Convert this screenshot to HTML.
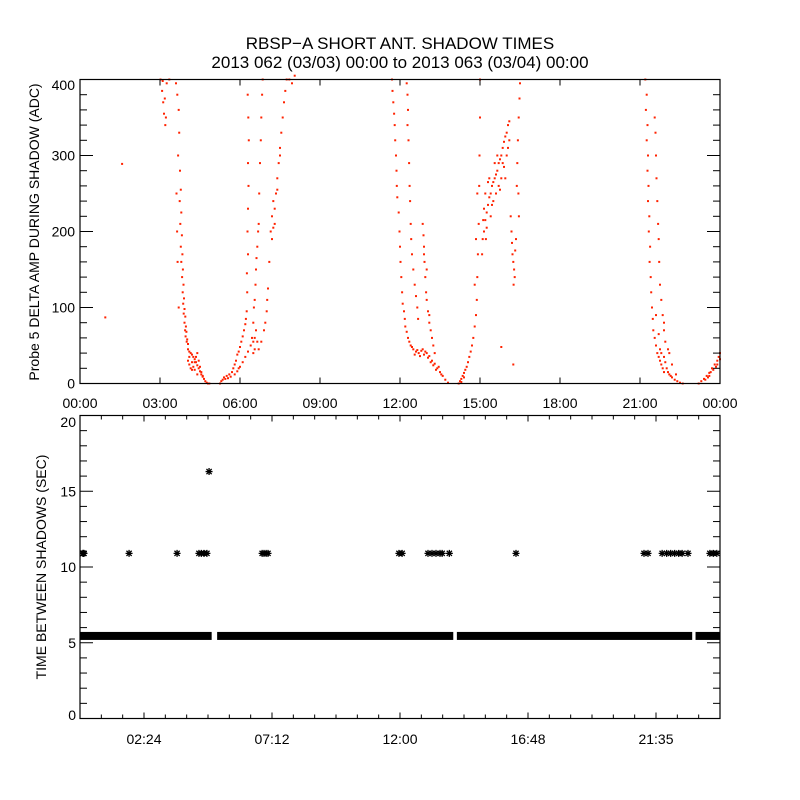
<!DOCTYPE html>
<html><head><meta charset="utf-8"><style>
html,body{margin:0;padding:0;background:#fff;}
svg{display:block;font-family:"Liberation Sans",sans-serif;}
</style></head><body>
<svg id="chart" width="800" height="800" viewBox="0 0 800 800">
<rect x="0" y="0" width="800" height="800" fill="#fff"/>
<text x="400" y="49" text-anchor="middle" font-size="17">RBSP−A SHORT ANT. SHADOW TIMES</text>
<text x="400" y="68" text-anchor="middle" font-size="17">2013 062 (03/03) 00:00 to 2013 063 (03/04) 00:00</text>
<g id="topPanel"></g>
<g id="botPanel"></g>
</svg>
<script>
// ---------- data ----------
const topTickHours = [0,3,6,9,12,15,18,21,24];
const topTickLabels = ["00:00","03:00","06:00","09:00","12:00","15:00","18:00","21:00","00:00"];
const topYTicks = [0,100,200,300,400];
const botXTickHours = [2.4,7.2,12,16.8,21.6];
const botXTickLabels = ["02:24","07:12","12:00","16:48","21:35"];
const botYTicks = [0,5,10,15,20];
// Probe 5 delta amp points: [hour, value]
const ampPoints = [
[0.95,87],[1.58,289],
[3.02,400],[3.08,385],[3.12,370],[3.15,355],[3.2,340],[3.25,395],[3.35,400],[3.1,398],[3.18,375],[3.22,350],
[3.65,380],[3.7,360],[3.72,330],[3.68,300],[3.75,280],[3.78,255],[3.74,240],[3.8,225],[3.76,210],[3.82,195],[3.78,180],[3.84,170],[3.8,160],[3.86,150],[3.83,140],[3.88,130],[3.85,120],[3.9,112],[3.87,105],[3.92,98],[3.89,92],[3.95,88],[3.92,80],[3.97,75],[3.94,70],[3.99,68],[3.96,62],[4.02,58],[4.0,55],[4.05,52],
[3.62,250],[3.64,200],[3.66,160],[3.6,395],[3.7,100],
[4.05,45],[4.1,42],[4.15,40],[4.2,38],[4.25,35],[4.3,32],[4.35,28],[4.4,24],[4.45,20],[4.5,16],[4.55,12],[4.6,9],[4.65,6],[4.7,3],[4.75,1],[4.8,0],[4.85,0],
[4.05,30],[4.1,25],[4.15,20],[4.2,18],[4.25,22],[4.3,28],[4.35,35],[4.4,40],[4.45,30],[4.5,22],[4.55,15],[4.6,10],[4.1,35],[4.2,28],[4.3,18],[4.4,12],
[5.25,0],[5.3,3],[5.35,5],[5.4,8],[5.45,6],[5.5,10],[5.55,7],[5.6,12],[5.65,9],[5.7,15],[5.75,20],[5.8,25],[5.85,30],[5.9,38],[5.95,42],[6.0,48],[6.05,55],[6.1,62],[6.15,70],[6.2,78],[6.22,85],
[5.8,12],[5.9,16],[5.95,20],[6.0,22],[6.1,28],[6.2,35],[6.3,42],[6.4,50],[6.5,55],[6.55,60],
[6.25,95],[6.27,120],[6.26,145],[6.3,170],[6.28,200],[6.3,230],[6.32,260],[6.3,290],[6.33,320],[6.31,350],[6.29,380],
[6.45,60],[6.5,80],[6.52,100],[6.55,110],[6.58,130],[6.6,150],[6.62,165],[6.65,180],[6.68,200],[6.7,210],[6.72,250],[6.75,290],[6.78,320],[6.8,350],[6.83,380],[6.85,400],[6.6,70],[6.65,55],[6.55,45],[6.5,40],
[6.7,45],[6.8,55],[6.9,70],[6.95,80],[7.0,95],[7.02,110],[7.05,125],[7.1,160],[7.15,200],[7.2,220],[7.25,240],[7.3,230],[7.35,250],[7.4,270],[7.45,290],[7.5,310],[7.55,330],[7.6,350],[7.65,370],[7.7,385],[7.75,400],[7.3,210],[7.2,190],[7.25,205],[7.4,255],[7.5,300],[7.85,400],[7.95,395],[8.05,405],
[11.7,400],[11.72,385],[11.75,370],[11.78,355],[11.8,340],[11.82,320],[11.85,300],[11.87,280],[11.88,260],[11.9,245],[11.95,225],[11.98,200],[12.0,180],[12.02,160],[12.05,140],[12.08,120],[12.1,105],[12.15,95],[12.18,85],[12.2,75],[12.25,68],[12.3,60],[12.35,55],[12.4,50],[12.45,48],[12.5,45],[12.6,42],[12.7,40],[12.8,43],[12.9,38],[13.0,40],[13.1,36],[13.2,30],[13.3,26],[13.4,20],[13.5,15],[13.6,10],[13.7,5],[13.8,1],
[12.55,38],[12.65,44],[12.75,36],[12.85,45],[12.95,42],[13.05,34],[13.15,28],[13.25,24],[13.35,18],[13.45,22],[13.55,12],
[12.25,395],[12.28,380],[12.3,360],[12.28,340],[12.32,320],[12.34,290],[12.36,260],[12.38,240],[12.4,210],[12.42,190],[12.45,170],[12.5,150],[12.55,130],[12.6,115],[12.65,100],[12.68,85],
[12.85,210],[12.88,195],[12.9,180],[12.92,160],[12.95,140],[12.98,120],[13.0,110],[13.05,95],[13.1,80],[13.15,70],[13.2,60],[13.25,50],[13.3,40],[13.1,90],[12.9,170],[13.0,150],
[14.2,0],[14.25,3],[14.3,6],[14.35,10],[14.4,14],[14.45,18],[14.5,22],[14.55,28],[14.6,35],[14.65,42],[14.7,50],[14.75,60],[14.8,75],[14.85,90],[14.88,110],[14.9,140],[14.92,170],[14.95,210],[14.97,260],[14.98,300],[15.0,350],[15.0,400],[14.8,130],[14.85,190],[14.9,250],[14.3,2],[14.4,8],
[15.08,170],[15.1,190],[15.15,200],[15.2,215],[15.25,225],[15.3,235],[15.35,245],[15.4,250],[15.45,260],[15.5,265],[15.55,270],[15.6,275],[15.65,280],[15.7,290],[15.75,295],[15.8,300],[15.85,310],[15.9,318],[15.95,325],[16.0,330],[16.05,340],[16.1,345],
[15.15,230],[15.2,250],[15.3,265],[15.4,220],[15.5,240],[15.6,250],[15.7,260],[15.8,270],[15.9,285],[16.0,300],[16.05,310],[15.25,205],[15.45,235],[15.65,300],[15.85,290],[15.95,270],[15.75,255],[15.35,270],[15.55,290],[16.1,320],[15.12,215],[15.22,190],
[16.15,220],[16.18,200],[16.2,185],[16.22,170],[16.25,160],[16.28,150],[16.3,140],[16.26,130],[16.32,175],[16.35,190],[16.38,260],[16.4,290],[16.42,320],[16.45,350],[16.48,375],[16.5,395],[16.44,250],[16.46,220],
[15.8,48],[16.25,25],
[21.2,400],[21.25,380],[21.22,360],[21.28,340],[21.25,320],[21.3,300],[21.28,280],[21.32,260],[21.3,240],[21.35,220],[21.33,200],[21.38,180],[21.36,160],[21.4,140],[21.42,120],[21.45,100],[21.48,85],[21.5,70],[21.55,60],[21.6,50],[21.65,40],[21.7,35],[21.75,30],[21.8,25],[21.85,20],[21.9,15],
[21.6,90],[21.7,65],[21.75,45],[21.8,40],[21.9,35],[21.95,28],[22.0,20],[22.05,15],[22.1,12],[22.15,10],[22.2,8],[22.3,5],[22.4,3],[22.5,1],[22.6,0],
[21.55,350],[21.58,330],[21.6,300],[21.62,270],[21.65,240],[21.68,210],[21.7,190],[21.72,160],[21.75,130],[21.8,110],[21.85,90],[21.9,70],[21.95,55],[22.05,45],[22.2,25],[22.35,12],[22.1,40],[21.9,80],
[23.2,0],[23.3,3],[23.4,6],[23.5,10],[23.6,14],[23.7,20],[23.8,25],[23.9,30],[24.0,40],[23.45,5],[23.55,8],[23.65,15],[23.75,18],[23.85,22],[23.95,35],[23.6,10],[23.9,25],[24.0,32]
];
// Bottom panel: continuous runs of ~5.4 s intervals [startHour, endHour]
const bandSegments = [[0.0,4.9],[5.18,13.96],[14.17,22.92],[23.12,24.0]];
const bandValue = 5.45;
// Isolated longer intervals
const longHours = [0.0,0.08,0.15,1.84,3.64,4.46,4.55,4.65,4.76,6.83,6.9,6.98,7.05,11.96,12.08,13.05,13.2,13.35,13.5,13.58,13.85,16.35,21.15,21.3,21.83,22.0,22.15,22.3,22.45,22.58,22.8,23.62,23.75,23.88,4.84];
const longValues = [10.9,10.9,10.9,10.9,10.9,10.9,10.9,10.9,10.9,10.9,10.9,10.9,10.9,10.9,10.9,10.9,10.9,10.9,10.9,10.9,10.9,10.9,10.9,10.9,10.9,10.9,10.9,10.9,10.9,10.9,10.9,10.9,10.9,10.9,16.3];

// ---------- helpers ----------
const NS="http://www.w3.org/2000/svg";
function mk(tag,attrs,parent){const e=document.createElementNS(NS,tag);for(const k in attrs)e.setAttribute(k,attrs[k]);parent.appendChild(e);return e;}
const L=80,R=720;
const xH=h=>L+(R-L)*h/24;
const T1=79.5,B1=383.5; const yA=v=>B1-(B1-T1)*v/400;
const T2=415.5,B2=718.5; const yS=v=>B2-(B2-T2)*v/20;

// ---------- top panel ----------
const topG=document.getElementById('topPanel');
const pts=mk('g',{},topG);


ampPoints.forEach(p=>{
  const r=mk('rect',{x:(xH(p[0])-1).toFixed(1),y:(yA(p[1])-1).toFixed(1),width:2,height:2,fill:'#ff2200'},pts);
  
  
});
const f1=mk('rect',{x:L,y:T1,width:R-L,height:B1-T1,fill:'none',stroke:'#000','stroke-width':1.2},topG);


topTickHours.forEach((h,i)=>{
  const x=xH(h);
  mk('line',{x1:x,y1:B1,x2:x,y2:B1-6,stroke:'#000'},topG);
  mk('line',{x1:x,y1:T1,x2:x,y2:T1+6,stroke:'#000'},topG);
  const t=mk('text',{x:x,y:408,'text-anchor':'middle','font-size':14},topG);
  t.textContent=topTickLabels[i];
  
  
});
for(let v=0;v<=400;v+=20){
  const y=yA(v), len=(v%100===0)?13:7;
  mk('line',{x1:L,y1:y,x2:L+len,y2:y,stroke:'#000'},topG);
  mk('line',{x1:R,y1:y,x2:R-len,y2:y,stroke:'#000'},topG);
}
topYTicks.forEach(v=>{
  const t=mk('text',{x:75,y:Math.max(yA(v)+5,90),'text-anchor':'end','font-size':14},topG);
  t.textContent=v;
  
  
});
const yt1=mk('text',{x:0,y:0,'text-anchor':'middle','font-size':14,transform:'translate(39,232) rotate(-90)'},topG);
yt1.textContent='Probe 5 DELTA AMP DURING SHADOW (ADC)';



// ---------- bottom panel ----------
const botG=document.getElementById('botPanel');
function star(cx,cy,g){
  const s=3.5,d=2.6;
  const p=mk('path',{d:`M${cx-s} ${cy}H${cx+s}M${cx} ${cy-s}V${cy+s}M${cx-d} ${cy-d}L${cx+d} ${cy+d}M${cx-d} ${cy+d}L${cx+d} ${cy-d}`,stroke:'#000','stroke-width':1.3,fill:'none'},g);
  return p;
}
const band=mk('g',{},botG);


bandSegments.forEach(s=>{
  const x1=xH(s[0]),x2=xH(s[1]),y=yS(bandValue);
  const a=Math.max(L,x1-1), b=Math.min(R,x2+1);
  const r=mk('rect',{x:a,y:y-4,width:b-a,height:8,fill:'#000'},band);
  
  
});
const lg=mk('g',{},botG);


longHours.forEach((h,i)=>{
  const p=star(Math.max(L+3,Math.min(R-3,xH(h))),yS(longValues[i]),lg);
  
  
});
const f2=mk('rect',{x:L,y:T2,width:R-L,height:B2-T2,fill:'none',stroke:'#000','stroke-width':1.2},botG);


for(let k=1;k<30;k++){
  const h=k*0.8, x=xH(h), major=(k%6===3);
  const len=major?6:4;
  mk('line',{x1:x,y1:B2,x2:x,y2:B2-len,stroke:'#000'},botG);
  mk('line',{x1:x,y1:T2,x2:x,y2:T2+len,stroke:'#000'},botG);
}
botXTickHours.forEach((h,i)=>{
  const t=mk('text',{x:xH(h),y:744,'text-anchor':'middle','font-size':14},botG);
  t.textContent=botXTickLabels[i];
  
  
});
for(let v=0;v<=20;v++){
  const y=yS(v), len=(v%5===0)?13:7;
  mk('line',{x1:L,y1:y,x2:L+len,y2:y,stroke:'#000'},botG);
  mk('line',{x1:R,y1:y,x2:R-len,y2:y,stroke:'#000'},botG);
}
botYTicks.forEach(v=>{
  const t=mk('text',{x:76,y:Math.min(Math.max(yS(v)+5,427),720),'text-anchor':'end','font-size':14},botG);
  t.textContent=v;
  
  
});
const yt2=mk('text',{x:0,y:0,'text-anchor':'middle','font-size':14,transform:'translate(46,567) rotate(-90)'},botG);
yt2.textContent='TIME BETWEEN SHADOWS (SEC)';


</script>
</body></html>
